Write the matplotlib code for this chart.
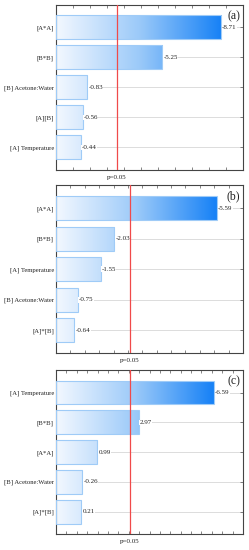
import numpy as np
import matplotlib
matplotlib.use("Agg")
import matplotlib.pyplot as plt
from matplotlib.colors import LinearSegmentedColormap
from matplotlib.ticker import MultipleLocator

plt.rcParams['font.family'] = ['Liberation Serif', 'DejaVu Serif']

# Panel (a)
cats_a = ["[A*A]", "[B*B]", "[B] Acetone:Water", "[A][B]", "[A] Temperature"]
vals_a = [-8.71, -5.25, -0.83, -0.56, -0.44]
# Panel (b)
cats_b = ["[A*A]", "[B*B]", "[A] Temperature", "[B] Acetone:Water", "[A]*[B]"]
vals_b = [-5.59, -2.03, -1.55, -0.75, -0.64]
# Panel (c)
cats_c = ["[A] Temperature", "[B*B]", "[A*A]", "[B] Acetone:Water", "[A]*[B]"]
vals_c = [-6.59, 2.97, 0.99, -0.26, 0.21]

p_crit = 2.57
panel_labels = ["(a)", "(b)", "(c)"]

panels = [
    (cats_a, vals_a, (-1, 10), 1.0, [0.225, 0.691, 0.751, 0.300]),
    (cats_b, vals_b, (0, 6.5), 0.5, [0.225, 0.358, 0.751, 0.305]),
    (cats_c, vals_c, (-1, 8), 0.5, [0.225, 0.029, 0.751, 0.298]),
]

cmap = LinearSegmentedColormap.from_list("g", ["#f3f8ff", "#9ccaf9", "#1681f6"])

fig = plt.figure(figsize=(2.49, 5.5), dpi=100)

for (cats, vals, xl, tstep, pos), plab in zip(panels, panel_labels):
    ax = fig.add_axes(pos)
    n = len(cats)
    ys = np.arange(n)[::-1]
    absv = np.abs(vals)
    for y in ys:
        ax.axhline(y, color="#dcdcdc", lw=0.7, zorder=0)
    vmax = absv.max()
    grad = np.linspace(0, 1, 256).reshape(1, -1)
    for y, v, raw in zip(ys, absv, vals):
        bars = ax.barh(y, v - xl[0], left=xl[0], height=0.8,
                       facecolor="none", edgecolor="#9fcbf7", lw=0.8, zorder=3)
        im = ax.imshow(grad, cmap=cmap, aspect="auto",
                       extent=(xl[0], vmax, y - 0.4, y + 0.4),
                       vmin=0, vmax=1, zorder=2, interpolation="bilinear")
        im.set_clip_path(bars.patches[0])
        ax.text(v + 0.006 * (xl[1] - xl[0]), y, f"{raw:.2f}",
                va="center", ha="left", fontsize=5.0, color="#222222", zorder=4,
                bbox=dict(facecolor="white", edgecolor="none", pad=0.2))
    ax.set_xlim(*xl)
    ax.set_ylim(-0.75, n - 0.25)
    ax.axvline(p_crit, color="#f04a4a", lw=0.9, zorder=5)
    ax.set_yticks(ys)
    ax.set_yticklabels(cats, fontsize=4.8)
    ax.xaxis.set_major_locator(MultipleLocator(tstep))
    ax.set_xticklabels([])
    ax.tick_params(axis="x", direction="in", length=2, width=0.5, top=True,
                   bottom=True, colors="#555555")
    ax.tick_params(axis="y", direction="in", length=2, width=0.5, left=True,
                   right=True, colors="#555555", labelcolor="#222222", pad=1.5)
    for s in ax.spines.values():
        s.set_color("#444444")
        s.set_linewidth(0.8)
    ax.text(0.985, 0.97, plab, transform=ax.transAxes, ha="right", va="top",
            fontsize=8.5, color="#222222", zorder=6)
    ax.text(p_crit, -0.03, "p=0.05", transform=ax.get_xaxis_transform(),
            ha="center", va="top", fontsize=5.0, color="#222222")

fig.savefig("out.png", dpi=100)
